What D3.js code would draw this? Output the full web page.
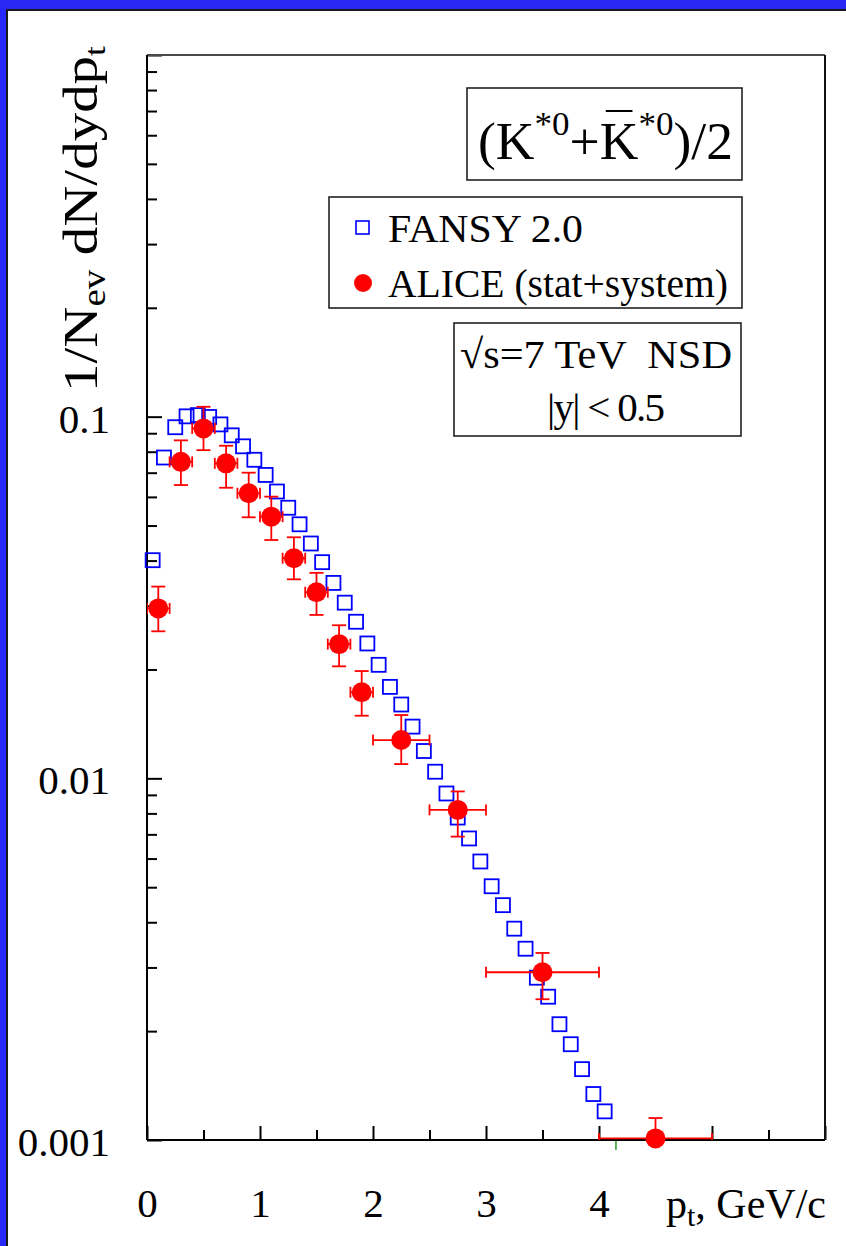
<!DOCTYPE html>
<html>
<head>
<meta charset="utf-8">
<script src="https://cdn.jsdelivr.net/npm/d3@7/dist/d3.min.js"></script>
<style>
  html, body { margin: 0; padding: 0; background: #fff; }
  svg { display: block; }
  text { font-family: "Liberation Serif", "Times New Roman", serif; fill: #000; }
</style>
</head>
<body>
<div id="chart"></div>
<script>
// FANSY 2.0 model points (pt, GeV/c) and yields
var fansyPt = [0.05, 0.15, 0.25, 0.35, 0.45, 0.55, 0.65, 0.75, 0.85, 0.95,
               1.05, 1.15, 1.25, 1.35, 1.45, 1.55, 1.65, 1.75, 1.85, 1.95,
               2.05, 2.15, 2.25, 2.35, 2.45, 2.55, 2.65, 2.75, 2.85, 2.95,
               3.05, 3.15, 3.25, 3.35, 3.45, 3.55, 3.65, 3.75, 3.85, 3.95, 4.05];
var fansyVal = [0.0401, 0.0771, 0.0935, 0.1002, 0.101, 0.0998, 0.0952, 0.0888, 0.0828, 0.0760,
                0.0690, 0.0621, 0.0560, 0.0504, 0.0446, 0.0396, 0.0347, 0.0306, 0.0271, 0.0236,
                0.0206, 0.0179, 0.0160, 0.0139, 0.0119, 0.01043, 0.00908, 0.00779, 0.00682, 0.00589,
                0.00503, 0.00446, 0.00384, 0.00338, 0.00281, 0.00249, 0.00209, 0.00184, 0.00157, 0.00134, 0.00120];

// ALICE data: bin centre, bin edges, value, upper and lower error ends
var alicePt  = [0.1, 0.3, 0.5, 0.7, 0.9, 1.1, 1.3, 1.5, 1.7, 1.9, 2.25, 2.75, 3.5, 4.5];
var aliceLo  = [0.0, 0.2, 0.4, 0.6, 0.8, 1.0, 1.2, 1.4, 1.6, 1.8, 2.0, 2.5, 3.0, 4.0];
var aliceHi  = [0.2, 0.4, 0.6, 0.8, 1.0, 1.2, 1.4, 1.6, 1.8, 2.0, 2.5, 3.0, 4.0, 5.0];
var aliceVal = [0.0295, 0.0750, 0.0928, 0.0743, 0.0614, 0.0529, 0.0406, 0.0327, 0.0235, 0.0173, 0.01276, 0.00818, 0.00291, 0.00101];
var aliceUp  = [0.0339, 0.0860, 0.1065, 0.0831, 0.0700, 0.0601, 0.0464, 0.0370, 0.0265, 0.0198, 0.01496, 0.00920, 0.00329, 0.00115];
var aliceDn  = [0.0255, 0.0647, 0.0808, 0.0636, 0.0527, 0.0456, 0.0355, 0.0283, 0.0204, 0.0149, 0.01095, 0.00690, 0.00245, 0.00088];

// stray green tick under the axis
var strayPt = [4.15];

var xMajor = [0, 1, 2, 3, 4, 5, 6];
var xMinor = [0.5, 1.5, 2.5, 3.5, 4.5, 5.5];
var xLabels = ["0", "1", "2", "3", "4", "", ""];
var yMajor = [0.001, 0.01, 0.1, 1];
var yLabels = ["0.001", "0.01", "0.1", ""];

var svgWidth = 846, svgHeight = 1246;
var margin = { top: 55, right: 21, bottom: 106, left: 147 };
var width = svgWidth - margin.left - margin.right;
var height = svgHeight - margin.top - margin.bottom;

var svg = d3.select("#chart").append("svg")
    .attr("width", svgWidth)
    .attr("height", svgHeight);

// slide frame: blue band top and left
svg.append("rect").attr("width", svgWidth).attr("height", svgHeight).attr("fill", "#2727f6");
svg.append("rect")
    .attr("x", 7).attr("y", 10)
    .attr("width", svgWidth + 20).attr("height", svgHeight + 20)
    .attr("fill", "#fff").attr("stroke", "#1a1a1a").attr("stroke-width", 2);

var g = svg.append("g").attr("transform", `translate(${margin.left},${margin.top})`);

var x = d3.scaleLinear().domain([0, 6]).range([0, width]);
var y = d3.scaleLog().domain([0.001, 1]).range([height, 0]);

// minor y ticks 2..9 per decade
var yMinor = [];
[0.001, 0.01, 0.1].forEach(function(d) {
    for (var k = 2; k <= 9; k++) yMinor.push(+(d * k).toPrecision(3));
});

// AXES
var xAxisMajor = d3.axisBottom(x).tickValues(xMajor).tickSize(-14).tickPadding(48)
    .tickFormat(function(d, i) { return xLabels[i]; });
var xAxisMinor = d3.axisBottom(x).tickValues(xMinor).tickSize(-10).tickFormat("");
var yAxisMajor = d3.axisLeft(y).tickValues(yMajor).tickSize(-15).tickPadding(37)
    .tickFormat(function(d, i) { return yLabels[i]; });
var yAxisMinor = d3.axisLeft(y).tickValues(yMinor).tickSize(-10).tickFormat("");

function styleAxis(sel) {
    sel.select(".domain").remove();
    sel.selectAll("line").attr("stroke", "#000").attr("stroke-width", 2);
    sel.selectAll("text").attr("font-size", 41).attr("fill", "#000")
        .style("font-family", "'Liberation Serif', serif");
}

g.append("g").attr("transform", `translate(0,${height})`).call(xAxisMajor).call(styleAxis);
g.append("g").attr("transform", `translate(0,${height})`).call(xAxisMinor).call(styleAxis);
g.append("g").call(yAxisMajor).call(styleAxis).selectAll("text").attr("dy", "0.38em");
g.append("g").call(yAxisMinor).call(styleAxis);

// frame
g.append("line").attr("x1", 0).attr("x2", width).attr("y1", 0).attr("y2", 0)
    .attr("stroke", "#4a4a4a").attr("stroke-width", 2);
g.append("line").attr("x1", width).attr("x2", width).attr("y1", 0).attr("y2", height)
    .attr("stroke", "#111").attr("stroke-width", 2);
g.append("line").attr("x1", 0).attr("x2", 0).attr("y1", 0).attr("y2", height)
    .attr("stroke", "#000").attr("stroke-width", 2);
g.append("line").attr("x1", 0).attr("x2", width).attr("y1", height).attr("y2", height)
    .attr("stroke", "#000").attr("stroke-width", 2.2);

// stray green tick
g.selectAll(".stray").data(strayPt).enter().append("line")
    .attr("x1", d => x(d)).attr("x2", d => x(d))
    .attr("y1", height + 1).attr("y2", height + 10)
    .attr("stroke", "#2a9a2a").attr("stroke-width", 1.5);

// FANSY squares
var sq = 14;
g.selectAll(".fansy").data(fansyPt).enter().append("rect")
    .attr("x", d => x(d) - sq / 2)
    .attr("y", (d, i) => y(fansyVal[i]) - sq / 2)
    .attr("width", sq).attr("height", sq)
    .attr("fill", "none").attr("stroke", "#0000ff").attr("stroke-width", 1.8);

// ALICE error bars (clipped to the frame) and points
svg.append("clipPath").attr("id", "plotclip").append("rect")
    .attr("x", 0).attr("y", 0).attr("width", width).attr("height", height);
var eb = g.append("g").attr("clip-path", "url(#plotclip)")
    .attr("stroke", "#ff0000").attr("stroke-width", 1.8);
var capW = 7, capH = 5.5;
alicePt.forEach(function(p, i) {
    var cx = x(p), cy = y(aliceVal[i]);
    var x0 = x(aliceLo[i]), x1 = x(aliceHi[i]);
    var yu = y(aliceUp[i]), yd = y(aliceDn[i]);
    eb.append("line").attr("x1", x0).attr("x2", x1).attr("y1", cy).attr("y2", cy);
    eb.append("line").attr("x1", x0).attr("x2", x0).attr("y1", cy - capH).attr("y2", cy + capH);
    eb.append("line").attr("x1", x1).attr("x2", x1).attr("y1", cy - capH).attr("y2", cy + capH);
    eb.append("line").attr("x1", cx).attr("x2", cx).attr("y1", yu).attr("y2", yd);
    eb.append("line").attr("x1", cx - capW).attr("x2", cx + capW).attr("y1", yu).attr("y2", yu);
    eb.append("line").attr("x1", cx - capW).attr("x2", cx + capW).attr("y1", yd).attr("y2", yd);
});
g.selectAll(".alice").data(alicePt).enter().append("circle")
    .attr("cx", d => x(d))
    .attr("cy", (d, i) => y(aliceVal[i]))
    .attr("r", 10)
    .attr("fill", "#ff0000");

// AXIS TITLES
var yt = svg.append("text")
    .attr("transform", "translate(97,219) rotate(-90)")
    .attr("text-anchor", "middle")
    .attr("font-size", 48)
    .attr("textLength", 346).attr("lengthAdjust", "spacingAndGlyphs");
yt.append("tspan").text("1/N");
yt.append("tspan").attr("font-size", 33).attr("dy", 8).text("ev");
yt.append("tspan").attr("dy", -8).text(" dN/dydp");
yt.append("tspan").attr("font-size", 30).attr("dy", 8).text("t");

var xt = svg.append("text").attr("x", 666).attr("y", 1218).attr("font-size", 42);
xt.append("tspan").text("p");
xt.append("tspan").attr("font-size", 30).attr("dy", 8).text("t");
xt.append("tspan").attr("dy", -8).text(", GeV/c");

// BOXES
function box(x0, y0, x1, y1) {
    svg.append("rect").attr("x", x0).attr("y", y0)
        .attr("width", x1 - x0).attr("height", y1 - y0)
        .attr("fill", "#fff").attr("stroke", "#222").attr("stroke-width", 1.6);
}

// particle title box
box(467, 88, 742, 180);
var tt = svg.append("text").attr("x", 478).attr("y", 159).attr("font-size", 52)
    .attr("textLength", 255).attr("lengthAdjust", "spacingAndGlyphs");
tt.append("tspan").text("(K");
tt.append("tspan").attr("font-size", 34).attr("dy", -24).text("*0");
tt.append("tspan").attr("dy", 24).text("+K");
tt.append("tspan").attr("font-size", 34).attr("dy", -24).text("*0");
tt.append("tspan").attr("dy", 24).text(")/2");
var kb = tt.node().getExtentOfChar(5);
svg.append("line")
    .attr("x1", kb.x + 6).attr("x2", kb.x + kb.width - 6)
    .attr("y1", 111).attr("y2", 111)
    .attr("stroke", "#000").attr("stroke-width", 2);

// legend box
box(329, 197, 742, 308);
svg.append("rect").attr("x", 356).attr("y", 221).attr("width", 13).attr("height", 13)
    .attr("fill", "none").attr("stroke", "#0000ff").attr("stroke-width", 1.6);
svg.append("text").attr("x", 388).attr("y", 242).attr("font-size", 41)
    .attr("textLength", 195).attr("lengthAdjust", "spacingAndGlyphs").text("FANSY 2.0");
svg.append("circle").attr("cx", 363).attr("cy", 283).attr("r", 9).attr("fill", "#ff0000");
svg.append("text").attr("x", 388).attr("y", 297).attr("font-size", 41)
    .attr("textLength", 340).attr("lengthAdjust", "spacingAndGlyphs").text("ALICE (stat+system)");

// energy box
box(454, 323, 741, 436);
svg.append("text").attr("x", 460).attr("y", 368).attr("font-size", 41)
    .attr("textLength", 272).attr("lengthAdjust", "spacingAndGlyphs")
    .attr("xml:space", "preserve").style("white-space", "pre").text("\u221As=7 TeV  NSD");
svg.append("text").attr("x", 547).attr("y", 421).attr("font-size", 41)
    .attr("textLength", 118).attr("lengthAdjust", "spacing").text("|y| < 0.5");
</script>
</body>
</html>
